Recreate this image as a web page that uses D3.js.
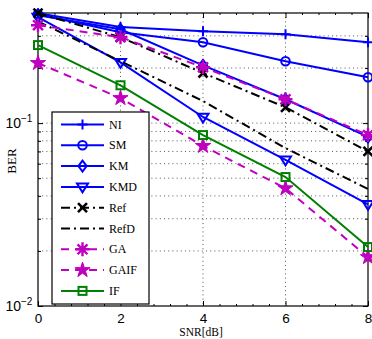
<!DOCTYPE html>
<html>
<head>
<meta charset="utf-8">
<script src="https://cdn.jsdelivr.net/npm/d3@7"></script>
<style>
  html, body { margin: 0; padding: 0; background: #fff; }
  svg { display: block; }
</style>
</head>
<body>
<svg id="chart" width="372" height="339"></svg>
<script>
// ---- data ----
const snr = [0, 2, 4, 6, 8];
const NI   = [0.399, 0.335, 0.318, 0.306, 0.277];
const SM   = [0.394, 0.314, 0.277, 0.218, 0.178];
const KM   = [0.389, 0.326, 0.207, 0.135, 0.084];
const KMD  = [0.380, 0.215, 0.108, 0.063, 0.036];
const Ref  = [0.399, 0.295, 0.188, 0.122, 0.070];
const RefD = [0.360, 0.218, 0.132, 0.073, 0.0436];
const GA   = [0.343, 0.295, 0.202, 0.135, 0.086];
const GAIF = [0.213, 0.137, 0.075, 0.044, 0.0185];
const IF   = [0.267, 0.161, 0.086, 0.0507, 0.021];
const seriesNames = ["NI", "SM", "KM", "KMD", "Ref", "RefD", "GA", "GAIF", "IF"];
const xTicks = [0, 2, 4, 6, 8];
const yMajor = [0.01, 0.1];
const yMinor = [0.02, 0.03, 0.04, 0.05, 0.06, 0.07, 0.08, 0.09, 0.2, 0.3];
const yTickLabels = [{base: "10", exp: "\u22122", v: 0.01}, {base: "10", exp: "\u22121", v: 0.1}];

const blue = "#0000ff", black = "#000000", mag = "#bf00bf", green = "#008000";
const styles = {
  NI:   {color: blue,  dash: null,        marker: "plus"},
  SM:   {color: blue,  dash: null,        marker: "circle"},
  KM:   {color: blue,  dash: null,        marker: "diamond"},
  KMD:  {color: blue,  dash: null,        marker: "tridown"},
  Ref:  {color: black, dash: "9,4,2,4",   marker: "x"},
  RefD: {color: black, dash: "9,4,2,4",   marker: null},
  GA:   {color: mag,   dash: "8,6",       marker: "asterisk"},
  GAIF: {color: mag,   dash: "8,6",       marker: "star"},
  IF:   {color: green, dash: null,        marker: "square"}
};
const dataMap = {NI, SM, KM, KMD, Ref, RefD, GA, GAIF, IF};

// ---- layout ----
const L = 38, R = 368, T = 13, B = 306;
const x = d3.scaleLinear().domain([0, 8]).range([L, R]);
const y = d3.scaleLog().domain([0.01, 0.4]).range([B, T]);

const svg = d3.select("#chart");
const sans = "'Liberation Sans', Arial, sans-serif";
const serif = "'Liberation Serif', 'Times New Roman', serif";

// grid
const grid = svg.append("g").attr("stroke", "#444").attr("stroke-width", 0.9)
  .attr("stroke-dasharray", "1,3.2");
xTicks.filter(t => t > 0 && t < 8).forEach(t => {
  grid.append("line").attr("x1", x(t)).attr("x2", x(t)).attr("y1", T).attr("y2", B);
});
yMajor.concat(yMinor).filter(v => v > 0.01).forEach(v => {
  grid.append("line").attr("x1", L).attr("x2", R).attr("y1", y(v)).attr("y2", y(v));
});

// axes (box)
const ax = svg.append("g");
const bottomAxis = d3.axisBottom(x).tickValues(xTicks).tickSizeInner(-5).tickSizeOuter(0).tickPadding(7);
const gB = ax.append("g").attr("transform", `translate(0,${B})`).call(bottomAxis);
gB.selectAll("text").attr("font-family", sans).attr("font-size", 13.5).attr("fill", "#000");
const topAxis = d3.axisTop(x).tickValues(xTicks).tickSizeInner(-5).tickSizeOuter(0).tickFormat("");
ax.append("g").attr("transform", `translate(0,${T})`).call(topAxis);
// minor x ticks
const xMinor = d3.range(0, 8.001, 0.4).filter(v => Math.abs(v / 2 - Math.round(v / 2)) > 1e-6);
const minorX = d3.axisBottom(x).tickValues(xMinor).tickSizeInner(-2).tickSizeOuter(0).tickFormat("");
ax.append("g").attr("transform", `translate(0,${B})`).call(minorX);
const minorXT = d3.axisTop(x).tickValues(xMinor).tickSizeInner(-2).tickSizeOuter(0).tickFormat("");
ax.append("g").attr("transform", `translate(0,${T})`).call(minorXT);

const leftAxis = d3.axisLeft(y).tickValues(yMajor).tickSizeInner(-5).tickSizeOuter(0).tickFormat("");
ax.append("g").attr("transform", `translate(${L},0)`).call(leftAxis);
const rightAxis = d3.axisRight(y).tickValues(yMajor).tickSizeInner(-5).tickSizeOuter(0).tickFormat("");
ax.append("g").attr("transform", `translate(${R},0)`).call(rightAxis);
const leftMinor = d3.axisLeft(y).tickValues(yMinor).tickSizeInner(-3).tickSizeOuter(0).tickFormat("");
ax.append("g").attr("transform", `translate(${L},0)`).call(leftMinor);
const rightMinor = d3.axisRight(y).tickValues(yMinor).tickSizeInner(-3).tickSizeOuter(0).tickFormat("");
ax.append("g").attr("transform", `translate(${R},0)`).call(rightMinor);
ax.selectAll(".domain").remove();
ax.selectAll("line").attr("stroke", "#000").attr("stroke-width", 1);
svg.append("rect").attr("x", L).attr("y", T).attr("width", R - L).attr("height", B - T)
  .attr("fill", "none").attr("stroke", "#000").attr("stroke-width", 1.2);

// y labels 10^-2, 10^-1
yTickLabels.forEach(d => {
  svg.append("text").attr("x", 21).attr("y", y(d.v) + 5)
    .attr("text-anchor", "end").attr("font-family", sans).attr("font-size", 14).attr("fill", "#000")
    .text(d.base);
  svg.append("text").attr("x", 21).attr("y", y(d.v) - 1.5)
    .attr("font-family", sans).attr("font-size", 10).attr("fill", "#000").text(d.exp);
});

// axis titles
svg.append("text").attr("transform", `translate(16,161) rotate(-90)`)
  .attr("text-anchor", "middle").attr("font-family", serif).attr("font-size", 13).text("BER");
svg.append("text").attr("x", 201).attr("y", 336).attr("text-anchor", "middle")
  .attr("font-family", serif).attr("font-size", 11.5).text("SNR[dB]");

// markers
function drawMarker(g, type, cx, cy, color) {
  const sw = 2;
  if (type === "plus") {
    g.append("path").attr("d", `M${cx-5},${cy}H${cx+5}M${cx},${cy-5}V${cy+5}`)
      .attr("stroke", color).attr("stroke-width", sw).attr("fill", "none");
  } else if (type === "circle") {
    g.append("circle").attr("cx", cx).attr("cy", cy).attr("r", 4.3)
      .attr("stroke", color).attr("stroke-width", sw).attr("fill", "none");
  } else if (type === "diamond") {
    const r = 5.5;
    g.append("path").attr("d", `M${cx},${cy-r}L${cx+r*0.75},${cy}L${cx},${cy+r}L${cx-r*0.75},${cy}Z`)
      .attr("stroke", color).attr("stroke-width", sw).attr("fill", "none");
  } else if (type === "tridown") {
    const r = 5.5;
    g.append("path").attr("d", `M${cx-r},${cy-r*0.6}L${cx+r},${cy-r*0.6}L${cx},${cy+r}Z`)
      .attr("stroke", color).attr("stroke-width", sw).attr("fill", "none");
  } else if (type === "x") {
    const r = 4.5;
    g.append("path").attr("d", `M${cx-r},${cy-r}L${cx+r},${cy+r}M${cx-r},${cy+r}L${cx+r},${cy-r}`)
      .attr("stroke", color).attr("stroke-width", 2.6).attr("fill", "none");
  } else if (type === "asterisk") {
    const r = 7, q = r * 0.707;
    g.append("path").attr("d", `M${cx-r},${cy}H${cx+r}M${cx},${cy-r}V${cy+r}M${cx-q},${cy-q}L${cx+q},${cy+q}M${cx-q},${cy+q}L${cx+q},${cy-q}`)
      .attr("stroke", color).attr("stroke-width", 2.4).attr("fill", "none");
  } else if (type === "star") {
    const ro = 8, ri = ro * 0.382;
    const pts = d3.range(10).map(i => {
      const a = -Math.PI / 2 + i * Math.PI / 5;
      const rr = i % 2 === 0 ? ro : ri;
      return [cx + rr * Math.cos(a), cy + rr * Math.sin(a)];
    });
    g.append("path").attr("d", "M" + pts.map(p => p.join(",")).join("L") + "Z")
      .attr("fill", color).attr("stroke", color).attr("stroke-width", 1);
  } else if (type === "square") {
    const r = 4;
    g.append("rect").attr("x", cx - r).attr("y", cy - r).attr("width", 2 * r).attr("height", 2 * r)
      .attr("stroke", color).attr("stroke-width", sw).attr("fill", "none");
  }
}

// series
const line = d3.line().x((d, i) => x(snr[i])).y(d => y(d));
const plot = svg.append("g");
seriesNames.forEach(name => {
  const s = styles[name];
  const vals = dataMap[name];
  const p = plot.append("path").datum(vals).attr("d", line)
    .attr("fill", "none").attr("stroke", s.color).attr("stroke-width", 2);
  if (s.dash) p.attr("stroke-dasharray", s.dash);
  if (s.marker) {
    vals.forEach((v, i) => drawMarker(plot, s.marker, x(snr[i]), y(v), s.color));
  }
});

// legend
const lg = svg.append("g");
const lx = 52, ly = 112, lw = 97, lh = 192;
lg.append("rect").attr("x", lx).attr("y", ly).attr("width", lw).attr("height", lh)
  .attr("fill", "#fff").attr("stroke", "#000").attr("stroke-width", 1.2);
seriesNames.forEach((name, i) => {
  const s = styles[name];
  const cy = 124.5 + i * 20.8;
  const l = lg.append("line").attr("x1", 61).attr("x2", 104).attr("y1", cy).attr("y2", cy)
    .attr("stroke", s.color).attr("stroke-width", 2);
  if (s.dash) l.attr("stroke-dasharray", s.dash);
  if (s.marker) drawMarker(lg, s.marker, 82.5, cy, s.color);
  lg.append("text").attr("x", 109).attr("y", cy + 4).attr("font-family", serif)
    .attr("font-size", 12).attr("fill", "#000").text(name);
});
</script>
</body>
</html>
